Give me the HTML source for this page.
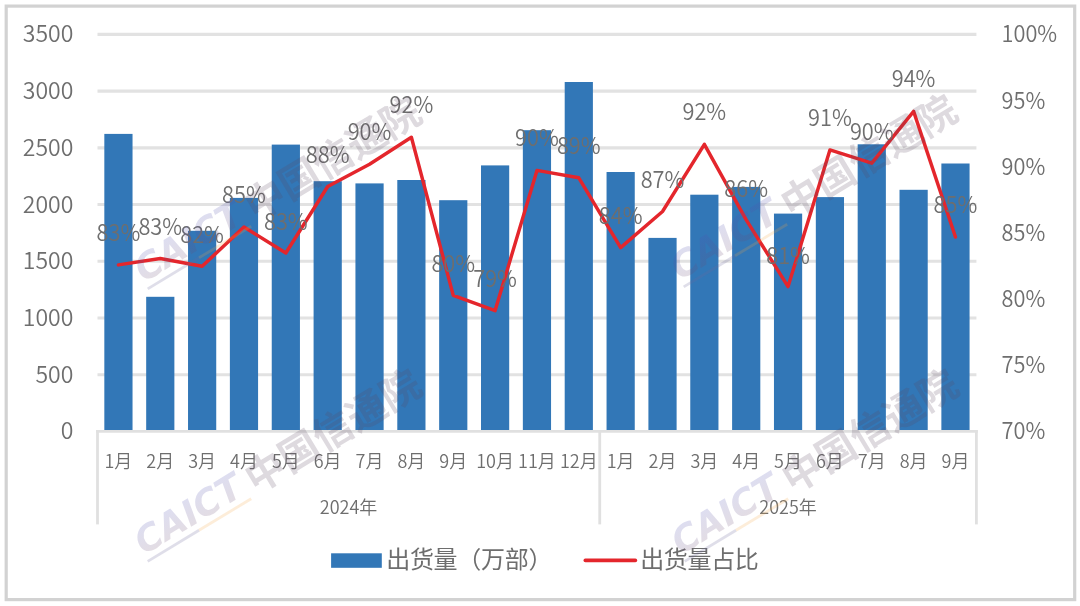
<!DOCTYPE html><html><head><meta charset="utf-8"><style>
html,body{margin:0;padding:0;background:#fff;}
body{width:1080px;height:606px;overflow:hidden;position:relative;}
svg{position:absolute;left:0;top:0;will-change:transform;} text{font-family:"Noto Sans CJK SC", "Liberation Sans", sans-serif;font-weight:350;}
.lg{font-weight:400;}
</style></head><body>
<svg width="1080" height="606" viewBox="0 0 1080 606">
<rect x="6.2" y="6.1" width="1068.5" height="593.5" fill="#fff" stroke="#d2d2d2" stroke-width="3.2"/>
<line x1="97.5" y1="374.69" x2="976.4" y2="374.69" stroke="#e2e2e2" stroke-width="3.1"/>
<line x1="97.5" y1="317.97" x2="976.4" y2="317.97" stroke="#e2e2e2" stroke-width="3.1"/>
<line x1="97.5" y1="261.26" x2="976.4" y2="261.26" stroke="#e2e2e2" stroke-width="3.1"/>
<line x1="97.5" y1="204.54" x2="976.4" y2="204.54" stroke="#e2e2e2" stroke-width="3.1"/>
<line x1="97.5" y1="147.83" x2="976.4" y2="147.83" stroke="#e2e2e2" stroke-width="3.1"/>
<line x1="97.5" y1="91.11" x2="976.4" y2="91.11" stroke="#e2e2e2" stroke-width="3.1"/>
<line x1="97.5" y1="34.40" x2="976.4" y2="34.40" stroke="#e2e2e2" stroke-width="3.1"/>
<rect x="104.33" y="133.90" width="28.2" height="296.10" fill="#3277b7"/>
<rect x="146.18" y="296.80" width="28.2" height="133.20" fill="#3277b7"/>
<rect x="188.03" y="230.80" width="28.2" height="199.20" fill="#3277b7"/>
<rect x="229.88" y="197.90" width="28.2" height="232.10" fill="#3277b7"/>
<rect x="271.74" y="144.60" width="28.2" height="285.40" fill="#3277b7"/>
<rect x="313.59" y="181.20" width="28.2" height="248.80" fill="#3277b7"/>
<rect x="355.44" y="183.40" width="28.2" height="246.60" fill="#3277b7"/>
<rect x="397.29" y="180.00" width="28.2" height="250.00" fill="#3277b7"/>
<rect x="439.15" y="200.20" width="28.2" height="229.80" fill="#3277b7"/>
<rect x="481.00" y="165.40" width="28.2" height="264.60" fill="#3277b7"/>
<rect x="522.85" y="130.20" width="28.2" height="299.80" fill="#3277b7"/>
<rect x="564.70" y="82.00" width="28.2" height="348.00" fill="#3277b7"/>
<rect x="606.55" y="172.00" width="28.2" height="258.00" fill="#3277b7"/>
<rect x="648.41" y="237.90" width="28.2" height="192.10" fill="#3277b7"/>
<rect x="690.26" y="194.70" width="28.2" height="235.30" fill="#3277b7"/>
<rect x="732.11" y="186.90" width="28.2" height="243.10" fill="#3277b7"/>
<rect x="773.96" y="213.60" width="28.2" height="216.40" fill="#3277b7"/>
<rect x="815.82" y="197.10" width="28.2" height="232.90" fill="#3277b7"/>
<rect x="857.67" y="144.30" width="28.2" height="285.70" fill="#3277b7"/>
<rect x="899.52" y="189.80" width="28.2" height="240.20" fill="#3277b7"/>
<rect x="941.37" y="163.50" width="28.2" height="266.50" fill="#3277b7"/>
<line x1="96.1" y1="431.4" x2="977.8" y2="431.4" stroke="#e0e0e0" stroke-width="2.9"/>
<line x1="97.50" y1="430" x2="97.50" y2="524.4" stroke="#e0e0e0" stroke-width="2.8"/>
<line x1="599.73" y1="430" x2="599.73" y2="524.4" stroke="#e0e0e0" stroke-width="2.8"/>
<line x1="976.40" y1="430" x2="976.40" y2="524.4" stroke="#e0e0e0" stroke-width="2.8"/>
<polyline points="118.43,264.90 160.28,258.50 202.13,266.30 243.98,227.00 285.84,253.00 327.69,186.50 369.54,164.30 411.39,137.20 453.25,295.40 495.10,310.60 536.95,170.40 578.80,177.80 620.65,247.60 662.51,211.50 704.36,144.30 746.21,219.80 788.06,286.60 829.92,149.90 871.77,163.20 913.62,111.40 955.47,237.00" fill="none" stroke="#e4262c" stroke-width="3.45" stroke-linejoin="round" stroke-linecap="round"/>
<text transform="translate(118.43,240.90) scale(0.945,1)" text-anchor="middle" font-size="23" fill="#6e6e6e">83%</text>
<text transform="translate(160.28,234.70) scale(0.945,1)" text-anchor="middle" font-size="23" fill="#6e6e6e">83%</text>
<text transform="translate(202.13,242.90) scale(0.945,1)" text-anchor="middle" font-size="23" fill="#6e6e6e">82%</text>
<text transform="translate(243.98,203.10) scale(0.945,1)" text-anchor="middle" font-size="23" fill="#6e6e6e">85%</text>
<text transform="translate(285.84,230.30) scale(0.945,1)" text-anchor="middle" font-size="23" fill="#6e6e6e">83%</text>
<text transform="translate(327.69,163.00) scale(0.945,1)" text-anchor="middle" font-size="23" fill="#6e6e6e">88%</text>
<text transform="translate(369.54,140.30) scale(0.945,1)" text-anchor="middle" font-size="23" fill="#6e6e6e">90%</text>
<text transform="translate(411.39,113.40) scale(0.945,1)" text-anchor="middle" font-size="23" fill="#6e6e6e">92%</text>
<text transform="translate(453.25,271.70) scale(0.945,1)" text-anchor="middle" font-size="23" fill="#6e6e6e">80%</text>
<text transform="translate(495.10,287.30) scale(0.945,1)" text-anchor="middle" font-size="23" fill="#6e6e6e">79%</text>
<text transform="translate(536.95,146.20) scale(0.945,1)" text-anchor="middle" font-size="23" fill="#6e6e6e">90%</text>
<text transform="translate(578.80,154.20) scale(0.945,1)" text-anchor="middle" font-size="23" fill="#6e6e6e">89%</text>
<text transform="translate(620.65,224.20) scale(0.945,1)" text-anchor="middle" font-size="23" fill="#6e6e6e">84%</text>
<text transform="translate(662.51,188.10) scale(0.945,1)" text-anchor="middle" font-size="23" fill="#6e6e6e">87%</text>
<text transform="translate(704.36,120.00) scale(0.945,1)" text-anchor="middle" font-size="23" fill="#6e6e6e">92%</text>
<text transform="translate(746.21,196.70) scale(0.945,1)" text-anchor="middle" font-size="23" fill="#6e6e6e">86%</text>
<text transform="translate(788.06,263.60) scale(0.945,1)" text-anchor="middle" font-size="23" fill="#6e6e6e">81%</text>
<text transform="translate(829.92,126.20) scale(0.945,1)" text-anchor="middle" font-size="23" fill="#6e6e6e">91%</text>
<text transform="translate(871.77,139.70) scale(0.945,1)" text-anchor="middle" font-size="23" fill="#6e6e6e">90%</text>
<text transform="translate(913.62,87.20) scale(0.945,1)" text-anchor="middle" font-size="23" fill="#6e6e6e">94%</text>
<text transform="translate(955.47,213.40) scale(0.945,1)" text-anchor="middle" font-size="23" fill="#6e6e6e">85%</text>
<text x="73.3" y="439.40" text-anchor="end" font-size="23" fill="#6e6e6e">0</text>
<text x="73.3" y="382.69" text-anchor="end" font-size="23" fill="#6e6e6e">500</text>
<text x="73.3" y="325.97" text-anchor="end" font-size="23" fill="#6e6e6e">1000</text>
<text x="73.3" y="269.26" text-anchor="end" font-size="23" fill="#6e6e6e">1500</text>
<text x="73.3" y="212.54" text-anchor="end" font-size="23" fill="#6e6e6e">2000</text>
<text x="73.3" y="155.83" text-anchor="end" font-size="23" fill="#6e6e6e">2500</text>
<text x="73.3" y="99.11" text-anchor="end" font-size="23" fill="#6e6e6e">3000</text>
<text x="73.3" y="42.40" text-anchor="end" font-size="23" fill="#6e6e6e">3500</text>
<text transform="translate(1001.6,439.40) scale(0.945,1)" font-size="23" fill="#6e6e6e">70%</text>
<text transform="translate(1001.6,373.23) scale(0.945,1)" font-size="23" fill="#6e6e6e">75%</text>
<text transform="translate(1001.6,307.07) scale(0.945,1)" font-size="23" fill="#6e6e6e">80%</text>
<text transform="translate(1001.6,240.90) scale(0.945,1)" font-size="23" fill="#6e6e6e">85%</text>
<text transform="translate(1001.6,174.73) scale(0.945,1)" font-size="23" fill="#6e6e6e">90%</text>
<text transform="translate(1001.6,108.57) scale(0.945,1)" font-size="23" fill="#6e6e6e">95%</text>
<text transform="translate(1001.6,42.40) scale(0.945,1)" font-size="23" fill="#6e6e6e">100%</text>
<text x="118.43" y="467.6" text-anchor="middle" font-size="18" fill="#6e6e6e">1月</text>
<text x="160.28" y="467.6" text-anchor="middle" font-size="18" fill="#6e6e6e">2月</text>
<text x="202.13" y="467.6" text-anchor="middle" font-size="18" fill="#6e6e6e">3月</text>
<text x="243.98" y="467.6" text-anchor="middle" font-size="18" fill="#6e6e6e">4月</text>
<text x="285.84" y="467.6" text-anchor="middle" font-size="18" fill="#6e6e6e">5月</text>
<text x="327.69" y="467.6" text-anchor="middle" font-size="18" fill="#6e6e6e">6月</text>
<text x="369.54" y="467.6" text-anchor="middle" font-size="18" fill="#6e6e6e">7月</text>
<text x="411.39" y="467.6" text-anchor="middle" font-size="18" fill="#6e6e6e">8月</text>
<text x="453.25" y="467.6" text-anchor="middle" font-size="18" fill="#6e6e6e">9月</text>
<text x="495.10" y="467.6" text-anchor="middle" font-size="18" fill="#6e6e6e">10月</text>
<text x="536.95" y="467.6" text-anchor="middle" font-size="18" fill="#6e6e6e">11月</text>
<text x="578.80" y="467.6" text-anchor="middle" font-size="18" fill="#6e6e6e">12月</text>
<text x="620.65" y="467.6" text-anchor="middle" font-size="18" fill="#6e6e6e">1月</text>
<text x="662.51" y="467.6" text-anchor="middle" font-size="18" fill="#6e6e6e">2月</text>
<text x="704.36" y="467.6" text-anchor="middle" font-size="18" fill="#6e6e6e">3月</text>
<text x="746.21" y="467.6" text-anchor="middle" font-size="18" fill="#6e6e6e">4月</text>
<text x="788.06" y="467.6" text-anchor="middle" font-size="18" fill="#6e6e6e">5月</text>
<text x="829.92" y="467.6" text-anchor="middle" font-size="18" fill="#6e6e6e">6月</text>
<text x="871.77" y="467.6" text-anchor="middle" font-size="18" fill="#6e6e6e">7月</text>
<text x="913.62" y="467.6" text-anchor="middle" font-size="18" fill="#6e6e6e">8月</text>
<text x="955.47" y="467.6" text-anchor="middle" font-size="18" fill="#6e6e6e">9月</text>
<text x="348.61" y="513.8" text-anchor="middle" font-size="18" fill="#6e6e6e">2024年</text>
<text x="788.06" y="513.8" text-anchor="middle" font-size="18" fill="#6e6e6e">2025年</text>
<rect x="331.1" y="553.3" width="50.7" height="14.5" fill="#3277b7"/>
<text class="lg" x="386.2" y="568.2" font-size="24" letter-spacing="-0.3" fill="#6e6e6e">出货量（万部）</text>
<line x1="585.3" y1="560.4" x2="635.4" y2="560.4" stroke="#e4262c" stroke-width="3.6" stroke-linecap="round"/>
<text class="lg" x="640.2" y="568.2" font-size="24" letter-spacing="-0.35" fill="#6e6e6e">出货量占比</text>
<defs><linearGradient id="wmg" gradientUnits="userSpaceOnUse" x1="0" y1="-33" x2="0" y2="-7"><stop offset="0" stop-color="#5050b0" stop-opacity="0.19"/><stop offset="1" stop-color="#6a4a70" stop-opacity="0.19"/></linearGradient></defs>
<g transform="translate(147.7,561.4) rotate(-31.2)"><line x1="0" y1="0" x2="60" y2="0" stroke="#6c6a9a" stroke-opacity="0.22" stroke-width="2.8"/><line x1="60" y1="0" x2="121" y2="0" stroke="#f5a540" stroke-opacity="0.2" stroke-width="2.8"/><text x="0" y="-7.2" font-size="36" fill="url(#wmg)" style="font-family:'DejaVu Sans',sans-serif;font-weight:bold;font-style:italic">CAICT</text><text x="127.1" y="-1.5" font-size="39.5" fill="#584860" fill-opacity="0.2" style="font-family:'Noto Sans CJK SC',sans-serif;font-weight:bold">中国信通院</text></g>
<g transform="translate(147.7,288.9) rotate(-31.2)"><line x1="0" y1="0" x2="60" y2="0" stroke="#6c6a9a" stroke-opacity="0.22" stroke-width="2.8"/><line x1="60" y1="0" x2="121" y2="0" stroke="#f5a540" stroke-opacity="0.2" stroke-width="2.8"/><text x="0" y="-7.2" font-size="36" fill="url(#wmg)" style="font-family:'DejaVu Sans',sans-serif;font-weight:bold;font-style:italic">CAICT</text><text x="127.1" y="-1.5" font-size="39.5" fill="#584860" fill-opacity="0.2" style="font-family:'Noto Sans CJK SC',sans-serif;font-weight:bold">中国信通院</text></g>
<g transform="translate(683.7,286.9) rotate(-31.2)"><line x1="0" y1="0" x2="60" y2="0" stroke="#6c6a9a" stroke-opacity="0.22" stroke-width="2.8"/><line x1="60" y1="0" x2="121" y2="0" stroke="#f5a540" stroke-opacity="0.2" stroke-width="2.8"/><text x="0" y="-7.2" font-size="36" fill="url(#wmg)" style="font-family:'DejaVu Sans',sans-serif;font-weight:bold;font-style:italic">CAICT</text><text x="127.1" y="-1.5" font-size="39.5" fill="#584860" fill-opacity="0.2" style="font-family:'Noto Sans CJK SC',sans-serif;font-weight:bold">中国信通院</text></g>
<g transform="translate(684.7,561.4) rotate(-31.2)"><line x1="0" y1="0" x2="60" y2="0" stroke="#6c6a9a" stroke-opacity="0.22" stroke-width="2.8"/><line x1="60" y1="0" x2="121" y2="0" stroke="#f5a540" stroke-opacity="0.2" stroke-width="2.8"/><text x="0" y="-7.2" font-size="36" fill="url(#wmg)" style="font-family:'DejaVu Sans',sans-serif;font-weight:bold;font-style:italic">CAICT</text><text x="127.1" y="-1.5" font-size="39.5" fill="#584860" fill-opacity="0.2" style="font-family:'Noto Sans CJK SC',sans-serif;font-weight:bold">中国信通院</text></g>
</svg></body></html>
